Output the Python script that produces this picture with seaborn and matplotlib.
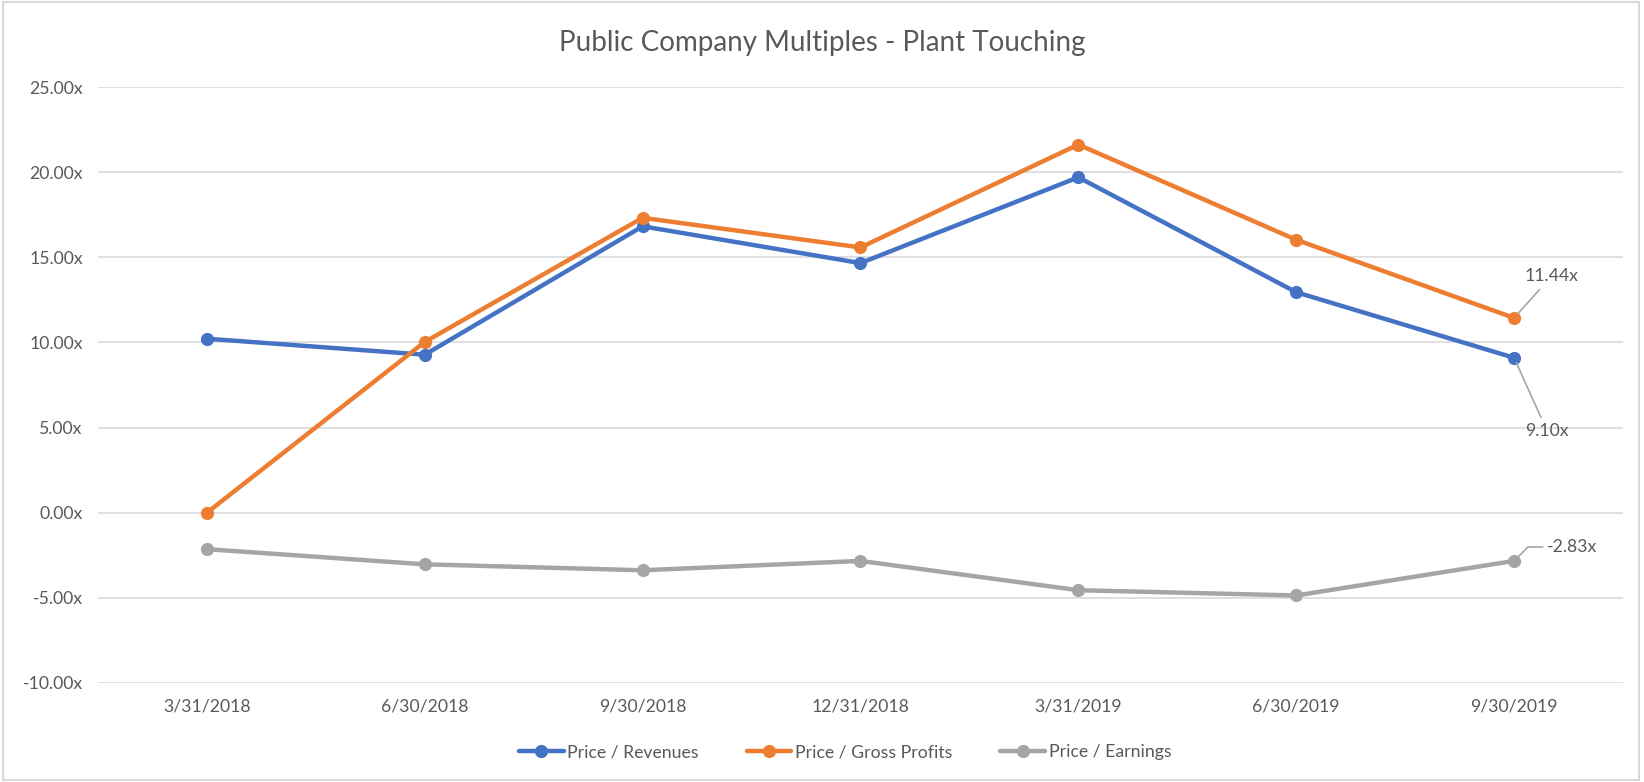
import matplotlib
matplotlib.use("Agg")
import matplotlib.pyplot as plt
import matplotlib.patches as mpatches
from matplotlib.ticker import FuncFormatter, MultipleLocator
from matplotlib.lines import Line2D
import seaborn as sns
import pandas as pd

dates = ["3/31/2018", "6/30/2018", "9/30/2018", "12/31/2018", "3/31/2019", "6/30/2019", "9/30/2019"]
price_revenues = [10.22, 9.28, 16.82, 14.66, 19.70, 12.95, 9.10]
price_gross_profits = [0.00, 10.03, 17.32, 15.58, 21.62, 16.03, 11.44]
price_earnings = [-2.14, -3.03, -3.38, -2.83, -4.55, -4.86, -2.83]
series_names = ["Price / Revenues", "Price / Gross Profits", "Price / Earnings"]
colors = ["#4472C4", "#ED7D31", "#A5A5A5"]

rows = []
for name, vals in zip(series_names, [price_revenues, price_gross_profits, price_earnings]):
    for d, v in zip(dates, vals):
        rows.append({"date": d, "value": v, "series": name})
df = pd.DataFrame(rows)

sns.set_theme(style="white")
plt.rcParams["font.family"] = ["Lato", "DejaVu Sans"]
text_color = "#595959"
fs = 12.7

fig = plt.figure(figsize=(16.44, 7.82), dpi=100)
ax = fig.add_axes([0.0596, 0.1266, 0.9276, 0.7621])

sns.lineplot(data=df, x="date", y="value", hue="series", palette=colors,
             marker="o", markersize=9.5, markeredgewidth=0, linewidth=3.2,
             sort=False, ax=ax, legend=False)

ax.set_xlim(-0.5, len(dates) - 0.5)
ax.set_ylim(-10, 25)
ax.yaxis.set_major_locator(MultipleLocator(5))
ax.yaxis.set_major_formatter(FuncFormatter(lambda v, p: f"{v:.2f}x"))
ax.grid(axis="y", color="#D9D9D9", linewidth=1.2)
ax.grid(axis="x", visible=False)
ax.set_axisbelow(True)
for s in ax.spines.values():
    s.set_visible(False)
ax.tick_params(axis="both", length=0, labelsize=fs, labelcolor=text_color)
ax.tick_params(axis="y", pad=11)
ax.tick_params(axis="x", pad=11)
ax.set_xlabel("")
ax.set_ylabel("")

last = len(dates) - 1
lead = dict(arrowstyle="-", color="#A5A5A5", linewidth=1.2, shrinkA=2, shrinkB=4)
ax.annotate(f"{price_gross_profits[-1]:.2f}x", xy=(last, price_gross_profits[-1]),
            xytext=(27, 30), textcoords="offset points", ha="center", va="center",
            fontsize=fs, color=text_color, arrowprops=lead)
ax.annotate(f"{price_revenues[-1]:.2f}x", xy=(last, price_revenues[-1]),
            xytext=(24, -53), textcoords="offset points", ha="center", va="center",
            fontsize=fs, color=text_color, arrowprops=lead)
ax.annotate(f"{price_earnings[-1]:.2f}x", xy=(last, price_earnings[-1]),
            xytext=(24, 10), textcoords="offset points", ha="left", va="center",
            fontsize=fs, color=text_color,
            arrowprops=dict(arrowstyle="-", color="#A5A5A5", linewidth=1.2,
                            shrinkA=1, shrinkB=4,
                            connectionstyle="angle,angleA=0,angleB=45,rad=0"))

fig.text(0.5, 0.945, "Public Company Multiples - Plant Touching", ha="center", va="center",
         fontsize=20, color=text_color)

handles = [Line2D([0], [0], color=c, linewidth=3.2, marker="o", markersize=9.5,
                  markeredgewidth=0) for c in colors]
fig.legend(handles, series_names, loc="center", bbox_to_anchor=(0.514, 0.038), ncol=3,
           frameon=False, fontsize=fs, labelcolor=text_color, handlelength=2.55,
           handletextpad=0.2, columnspacing=2.7)

fig.patches.append(mpatches.Rectangle((0.002, 0.003), 0.995, 0.994, transform=fig.transFigure,
                                      fill=False, edgecolor="#D9D9D9", linewidth=1.5))

fig.savefig("out.png", dpi=100, facecolor="white")
